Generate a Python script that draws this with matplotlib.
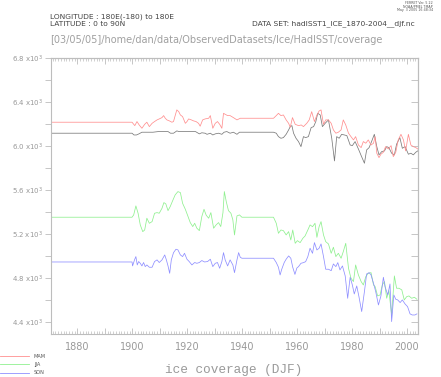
import numpy as np
import matplotlib
matplotlib.use("Agg")
import matplotlib.pyplot as plt
from matplotlib.ticker import FixedLocator, FuncFormatter

# values, (year, ice coverage in 10^3 units)
djf = [(1870.4, 6.116), (1899.9, 6.116), (1900.6, 6.100), (1901.5, 6.100), (1902.4, 6.110),
       (1903.5, 6.125), (1907.5, 6.125), (1909.5, 6.131), (1913.0, 6.131), (1913.9, 6.116),
       (1915.0, 6.116), (1916.2, 6.137), (1917.0, 6.131), (1923.0, 6.131), (1924.4, 6.110),
       (1925.3, 6.120), (1926.5, 6.116), (1927.2, 6.106), (1928.4, 6.116), (1929.3, 6.100),
       (1930.2, 6.110), (1931.4, 6.116), (1932.6, 6.106), (1933.4, 6.125), (1934.4, 6.131),
       (1935.6, 6.116), (1936.8, 6.125), (1938.1, 6.106), (1939.0, 6.125), (1951.4, 6.125),
       (1952.4, 6.116), (1953.2, 6.085), (1954.1, 6.070), (1955.0, 6.076), (1956.0, 6.106),
       (1956.9, 6.146), (1957.5, 6.176), (1958.1, 6.185), (1958.7, 6.116), (1959.6, 6.070),
       (1960.5, 6.040), (1961.4, 5.994), (1962.3, 6.085), (1963.1, 6.076), (1964.1, 6.085),
       (1965.1, 6.167), (1966.0, 6.176), (1966.8, 6.222), (1967.5, 6.297), (1968.4, 6.282),
       (1969.2, 6.176), (1970.2, 6.206), (1971.4, 6.237), (1972.6, 6.070), (1973.6, 5.864),
       (1974.4, 6.085), (1975.3, 6.070), (1976.2, 6.106), (1977.2, 6.100), (1978.1, 6.094),
       (1979.3, 6.009), (1980.1, 6.003), (1981.1, 6.040), (1982.3, 5.973), (1983.3, 5.913),
       (1984.5, 5.843), (1985.3, 5.964), (1986.2, 5.985), (1987.1, 6.040), (1988.1, 6.106),
       (1989.0, 5.994), (1989.8, 5.919), (1990.8, 5.949), (1991.8, 5.955), (1992.6, 5.994),
       (1993.4, 5.985), (1994.4, 5.934), (1995.4, 5.919), (1996.2, 6.016), (1997.4, 6.076),
       (1998.3, 5.979), (1999.3, 5.994), (2000.5, 5.925), (2001.4, 5.934), (2002.3, 5.919),
       (2003.2, 5.943), (2003.9, 5.955)]

mam = [(1870.4, 6.216), (1899.9, 6.216), (1900.9, 6.185), (1901.7, 6.222), (1902.5, 6.191),
       (1903.5, 6.161), (1904.5, 6.197), (1905.3, 6.216), (1906.2, 6.176), (1907.2, 6.206),
       (1908.1, 6.222), (1909.0, 6.237), (1909.8, 6.246), (1910.8, 6.258), (1911.4, 6.276),
       (1912.0, 6.252), (1912.6, 6.237), (1913.5, 6.228), (1914.4, 6.216), (1915.0, 6.222),
       (1915.6, 6.276), (1916.2, 6.328), (1916.9, 6.312), (1917.5, 6.282), (1918.3, 6.267),
       (1919.3, 6.206), (1919.9, 6.222), (1920.5, 6.246), (1921.5, 6.237), (1922.3, 6.228),
       (1923.2, 6.222), (1924.1, 6.206), (1924.7, 6.180), (1925.6, 6.237), (1926.5, 6.246),
       (1927.8, 6.252), (1928.4, 6.276), (1929.3, 6.161), (1930.2, 6.206), (1931.0, 6.222),
       (1931.8, 6.197), (1932.6, 6.161), (1933.2, 6.297), (1933.8, 6.288), (1934.7, 6.276),
       (1935.6, 6.276), (1936.8, 6.258), (1938.1, 6.237), (1939.3, 6.252), (1951.4, 6.252),
       (1952.4, 6.276), (1953.2, 6.297), (1954.1, 6.276), (1955.0, 6.282), (1956.0, 6.237),
       (1956.9, 6.206), (1957.5, 6.170), (1958.3, 6.258), (1959.3, 6.197), (1960.5, 6.185),
       (1961.5, 6.191), (1962.3, 6.176), (1963.5, 6.206), (1964.4, 6.237), (1965.3, 6.312),
       (1966.3, 6.222), (1967.2, 6.282), (1968.0, 6.318), (1968.7, 6.328), (1969.6, 6.197),
       (1970.4, 6.237), (1971.4, 6.237), (1972.4, 6.206), (1973.2, 6.146), (1974.1, 6.116),
       (1975.0, 6.125), (1976.0, 6.146), (1976.8, 6.237), (1977.7, 6.191), (1978.7, 6.116),
       (1979.6, 6.085), (1980.5, 6.055), (1981.3, 6.085), (1982.3, 6.009), (1983.3, 5.985),
       (1984.1, 6.040), (1985.0, 6.025), (1985.9, 6.055), (1986.9, 6.009), (1987.8, 6.025),
       (1988.4, 6.085), (1989.0, 5.934), (1989.8, 5.894), (1990.5, 5.925), (1991.4, 5.943),
       (1992.2, 5.994), (1993.2, 5.973), (1994.2, 6.003), (1995.0, 5.903), (1995.9, 5.943),
       (1996.8, 6.055), (1997.8, 6.106), (1998.7, 6.055), (1999.5, 5.955), (2000.5, 6.106),
       (2001.4, 6.009), (2002.3, 5.994), (2003.2, 5.985), (2003.9, 5.973)]

jja = [(1870.4, 5.352), (1899.9, 5.352), (1900.5, 5.373), (1901.3, 5.455), (1902.1, 5.388),
       (1902.9, 5.282), (1903.8, 5.221), (1904.5, 5.236), (1905.3, 5.343), (1906.2, 5.297),
       (1907.2, 5.312), (1908.1, 5.388), (1909.0, 5.394), (1909.8, 5.388), (1910.8, 5.433),
       (1911.5, 5.485), (1912.2, 5.473), (1913.0, 5.412), (1913.8, 5.449), (1914.7, 5.503),
       (1915.6, 5.555), (1916.6, 5.585), (1917.5, 5.576), (1918.3, 5.479), (1919.3, 5.424),
       (1920.2, 5.364), (1921.1, 5.303), (1922.0, 5.267), (1922.7, 5.297), (1923.5, 5.252),
       (1924.4, 5.230), (1925.3, 5.358), (1926.1, 5.424), (1926.9, 5.370), (1927.8, 5.343),
       (1928.6, 5.394), (1929.6, 5.252), (1930.5, 5.282), (1931.4, 5.303), (1932.2, 5.267),
       (1933.0, 5.394), (1933.5, 5.585), (1934.2, 5.494), (1935.0, 5.412), (1935.9, 5.388),
       (1936.6, 5.328), (1937.2, 5.191), (1938.1, 5.364), (1939.0, 5.373), (1939.9, 5.352),
       (1951.4, 5.352), (1952.4, 5.297), (1953.2, 5.206), (1954.1, 5.236), (1955.0, 5.230),
       (1956.0, 5.191), (1956.9, 5.221), (1957.7, 5.145), (1958.4, 5.236), (1959.3, 5.115),
       (1960.1, 5.139), (1961.1, 5.121), (1962.1, 5.161), (1962.9, 5.182), (1963.9, 5.236),
       (1964.7, 5.282), (1965.6, 5.266), (1966.5, 5.297), (1967.2, 5.169), (1968.0, 5.266),
       (1968.7, 5.312), (1969.6, 5.191), (1970.4, 5.130), (1971.4, 5.109), (1972.4, 5.024),
       (1973.2, 5.079), (1974.1, 4.994), (1975.0, 5.024), (1976.0, 4.979), (1976.8, 5.039),
       (1977.7, 5.115), (1978.7, 4.888), (1979.6, 4.797), (1980.5, 4.767), (1981.3, 4.918),
       (1982.3, 4.827), (1983.3, 4.767), (1984.1, 4.736), (1985.0, 4.812), (1985.9, 4.842),
       (1986.9, 4.848), (1987.8, 4.736), (1988.4, 4.721), (1989.3, 4.636), (1990.2, 4.645),
       (1991.0, 4.736), (1991.8, 4.767), (1992.6, 4.615), (1993.4, 4.685), (1994.4, 4.463),
       (1995.4, 4.818), (1996.2, 4.706), (1997.1, 4.706), (1998.1, 4.691), (1999.0, 4.600),
       (1999.9, 4.630), (2000.7, 4.636), (2001.7, 4.615), (2002.7, 4.624), (2003.6, 4.606)]

son = [(1870.4, 4.945), (1899.9, 4.945), (1900.1, 4.909), (1900.8, 4.964), (1901.3, 4.994),
       (1901.8, 4.918), (1902.3, 4.949), (1902.9, 4.933), (1903.5, 4.909), (1904.1, 4.940),
       (1904.7, 4.903), (1905.3, 4.918), (1906.2, 4.897), (1907.2, 4.897), (1908.1, 4.949),
       (1909.0, 4.964), (1909.8, 4.940), (1910.8, 4.964), (1911.8, 5.009), (1912.4, 4.964),
       (1913.0, 4.909), (1913.6, 4.842), (1914.2, 4.964), (1915.0, 5.030), (1915.9, 5.061),
       (1916.6, 5.055), (1917.5, 5.009), (1918.3, 4.994), (1919.0, 5.024), (1919.9, 4.970),
       (1920.7, 4.949), (1921.7, 4.918), (1922.7, 4.940), (1923.5, 4.933), (1924.4, 4.940),
       (1925.3, 4.958), (1926.3, 4.945), (1927.4, 4.949), (1928.4, 4.970), (1929.3, 4.903),
       (1930.2, 4.933), (1931.0, 4.940), (1931.8, 4.888), (1932.6, 4.949), (1933.2, 5.030),
       (1933.8, 4.964), (1934.7, 4.909), (1935.6, 4.964), (1936.6, 4.918), (1937.2, 4.848),
       (1938.1, 4.964), (1938.7, 5.030), (1939.3, 4.988), (1939.9, 4.979), (1951.4, 4.979),
       (1952.4, 4.940), (1953.2, 4.897), (1953.8, 4.827), (1954.4, 4.879), (1955.3, 4.940),
       (1956.0, 4.970), (1956.9, 5.000), (1957.7, 4.979), (1958.4, 4.897), (1959.2, 4.832),
       (1959.9, 4.890), (1960.5, 4.903), (1961.4, 4.933), (1962.3, 4.939), (1963.1, 4.948),
       (1963.9, 4.994), (1964.7, 5.070), (1965.6, 5.024), (1966.3, 5.121), (1967.2, 5.054),
       (1968.0, 5.070), (1968.7, 5.109), (1969.6, 4.994), (1970.4, 4.879), (1971.4, 4.879),
       (1972.4, 4.866), (1973.2, 4.927), (1974.1, 4.903), (1974.8, 4.939), (1975.6, 4.873),
       (1976.5, 4.909), (1977.5, 4.818), (1978.4, 4.615), (1979.3, 4.806), (1980.1, 4.736),
       (1980.8, 4.654), (1981.7, 4.727), (1982.5, 4.630), (1983.5, 4.494), (1984.5, 4.676),
       (1985.3, 4.836), (1986.2, 4.848), (1986.9, 4.827), (1987.8, 4.751), (1988.6, 4.676),
       (1989.6, 4.554), (1990.5, 4.636), (1991.4, 4.806), (1992.0, 4.721), (1993.0, 4.645),
       (1993.8, 4.745), (1994.4, 4.403), (1995.2, 4.645), (1995.9, 4.606), (1996.6, 4.600),
       (1997.5, 4.576), (1998.3, 4.600), (1999.3, 4.563), (2000.2, 4.539), (2001.1, 4.473),
       (2001.9, 4.463), (2002.9, 4.463), (2003.6, 4.473)]

labels = ["MAM", "JJA", "SON"]

W, H = 441, 377
fig = plt.figure(figsize=(W / 100, H / 100), dpi=100)

def fx(px):
    return px / W

def fy(py):
    return 1 - py / H

ax = fig.add_axes([fx(51), fy(334), fx(418 - 51), (334 - 58) / H])

axis_col = "#bdbdbd"
text_col = "#999999"

ax.plot(*zip(*djf), color="#7a7a7a", lw=0.55)
l1, = ax.plot(*zip(*mam), color="#ff8f8f", lw=0.55)
l2, = ax.plot(*zip(*jja), color="#8ff08f", lw=0.55)
l3, = ax.plot(*zip(*son), color="#8f8fff", lw=0.55)

ax.set_xlim(1870.4, 2004.0)
ax.set_ylim(4.29, 6.8)

for s in ax.spines.values():
    s.set_color(axis_col)
    s.set_linewidth(0.8)

# y ticks: every 0.2, labels on 0.4 steps
yt = np.round(np.arange(4.4, 6.81, 0.2), 1)
ax.yaxis.set_major_locator(FixedLocator(yt))
ax.yaxis.set_major_formatter(FuncFormatter(
    lambda v, p: ("%.1f x10$^{3}$" % v) if abs((v - 4.4) / 0.4 - round((v - 4.4) / 0.4)) < 1e-6 else ""))
ax.tick_params(axis="y", direction="out", length=4.3, width=0.6, color=axis_col,
               labelsize=5, labelcolor=text_col, pad=1.5, right=False)

# x ticks: decades long, years short, labels every 20 years
ax.xaxis.set_major_locator(FixedLocator(np.arange(1880, 2001, 10)))
ax.xaxis.set_minor_locator(FixedLocator(np.arange(1871, 2004, 1)))
ax.xaxis.set_major_formatter(FuncFormatter(lambda v, p: "%d" % v if int(round(v)) % 20 == 0 else ""))
ax.tick_params(axis="x", which="major", direction="in", length=4, width=0.6, color=axis_col,
               labelsize=7, labelcolor=text_col, pad=6, top=False)
ax.tick_params(axis="x", which="minor", direction="in", length=2, width=0.5, color=axis_col, top=False)

# right and top ticks pointing inward
ry = ax.secondary_yaxis("right")
ry.yaxis.set_major_locator(FixedLocator(yt))
ry.tick_params(direction="in", length=5, width=0.6, color=axis_col, labelright=False)
ry.spines["right"].set_color(axis_col)
tx = ax.secondary_xaxis("top")
tx.xaxis.set_major_locator(FixedLocator(np.arange(1880, 2001, 10)))
tx.xaxis.set_minor_locator(FixedLocator(np.arange(1871, 2004, 1)))
tx.tick_params(which="major", direction="in", length=4, width=0.6, color=axis_col, labeltop=False)
tx.tick_params(which="minor", direction="in", length=2, width=0.5, color=axis_col)
tx.spines["top"].set_color(axis_col)

# header text
fig.text(fx(50), fy(17), "LONGITUDE : 180E(-180) to 180E", fontsize=5.4, color="#444444", va="center")
fig.text(fx(50), fy(24), "LATITUDE : 0 to 90N", fontsize=5.4, color="#444444", va="center")
fig.text(fx(415), fy(24), "DATA SET: hadISST1_ICE_1870-2004__djf.nc", fontsize=5.4,
         color="#444444", va="center", ha="right")
fig.text(fx(50), fy(40), "[03/05/05]/home/dan/data/ObservedDatasets/Ice/HadISST/coverage",
         fontsize=7, color="#a0a0a0", va="center")
fig.text(fx(433), fy(0.5), "FERRET Ver. 5.22\nNOAA/PMEL TMAP\nMay  3 2005 16:48:34",
         fontsize=2.3, color="#555555", va="top", ha="right", linespacing=1.0)

fig.text(fx(234), fy(370), "ice coverage (DJF)", fontsize=9.2, family="Liberation Mono",
         color=text_col, va="center", ha="center")

# legend at lower left
for i, (ln, lab) in enumerate(zip([l1, l2, l3], labels)):
    yy = fy(356 + 8.4 * i)
    fig.add_artist(plt.Line2D([0, fx(29)], [yy, yy], color=ln.get_color(), lw=0.6))
    fig.text(fx(34), yy, lab, fontsize=3.6, color="#555555", va="center")

fig.savefig("out.png", dpi=100, facecolor="white")
